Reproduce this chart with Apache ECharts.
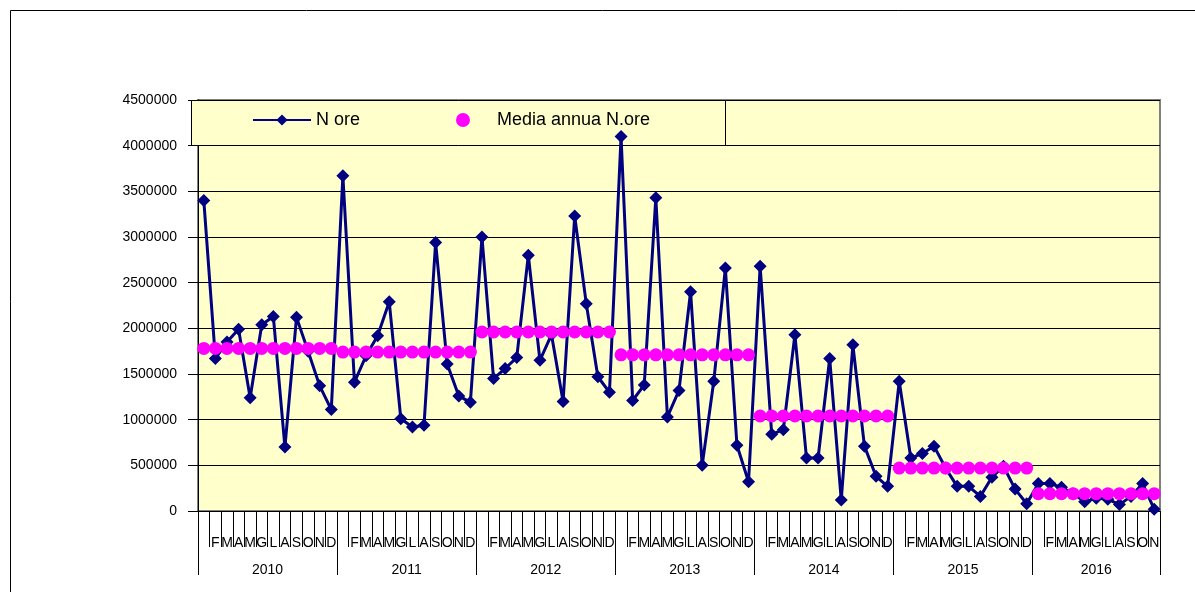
<!DOCTYPE html>
<html>
<head>
<meta charset="utf-8">
<script src="https://cdn.jsdelivr.net/npm/echarts@6/dist/echarts.min.js"></script>
<style>
  html, body { margin: 0; padding: 0; background: #fff; }
  #chart { width: 1195px; height: 592px; }
</style>
</head>
<body>
<div id="chart"></div>
<script>
// etichette asse x
var years = ['2010', '2011', '2012', '2013', '2014', '2015', '2016'];
var monthLabels = ['', 'F', 'M', 'A', 'M', 'G', 'L', 'A', 'S', 'O', 'N', 'D'];

// N ore mensili
var ore2010 = [3400000, 1670000, 1850000, 1990000, 1240000, 2040000, 2130000, 700000, 2120000, 1750000, 1370000, 1110000];
var ore2011 = [3670000, 1410000, 1700000, 1920000, 2290000, 1010000, 920000, 940000, 2940000, 1610000, 1260000, 1190000];
var ore2012 = [3000000, 1450000, 1560000, 1680000, 2800000, 1650000, 1930000, 1200000, 3230000, 2270000, 1470000, 1300000];
var ore2013 = [4100000, 1210000, 1380000, 3430000, 1030000, 1320000, 2400000, 500000, 1420000, 2660000, 720000, 320000];
var ore2014 = [2680000, 840000, 890000, 1930000, 580000, 580000, 1670000, 120000, 1820000, 710000, 380000, 270000];
var ore2015 = [1420000, 580000, 630000, 710000, 470000, 270000, 270000, 160000, 370000, 490000, 240000, 80000];
var ore2016 = [300000, 300000, 260000, 190000, 100000, 140000, 130000, 70000, 160000, 300000, 20000];

// media annua
var mediaAnnua = [1780000, 1740000, 1960000, 1710000, 1040000, 470000, 190000];

var yTicks = [0, 500000, 1000000, 1500000, 2000000, 2500000, 3000000, 3500000, 4000000, 4500000];

var perAnno = [ore2010, ore2011, ore2012, ore2013, ore2014, ore2015, ore2016];
var categories = [];
var oreData = [];
var mediaData = [];
perAnno.forEach(function (arr, y) {
  arr.forEach(function (v, m) {
    categories.push(years[y] + '-' + (m + 1));
    oreData.push(v);
    mediaData.push(mediaAnnua[y]);
  });
});
var nMesi = categories.length;

// confini anni e centro etichette
var yearTicks = [0];
var yearCenters = [];
var acc = 0;
perAnno.forEach(function (arr) {
  yearCenters.push(acc + arr.length / 2);
  acc += arr.length;
  yearTicks.push(acc);
});

var font = 'Arial, "Liberation Sans", sans-serif';
var chart = echarts.init(document.getElementById('chart'));

chart.setOption({
  animation: false,
  grid: {
    left: 198, top: 100, right: 35, bottom: 81,
    show: true,
    backgroundColor: '#ffffcc',
    borderColor: '#808080',
    borderWidth: 2
  },
  graphic: [
    {
      type: 'polyline',
      shape: { points: [[10.5, 592], [10.5, 10.5], [1195, 10.5]] },
      style: { stroke: '#000', lineWidth: 1, fill: null },
      z: 1
    },
    {
      type: 'rect',
      shape: { x: 191.5, y: 100.5, width: 534, height: 45 },
      style: { fill: '#ffffcc', stroke: '#000', lineWidth: 1 },
      z: 1
    }
  ],
  legend: {
    left: 252,
    top: 111,
    itemWidth: 58,
    itemHeight: 14,
    itemGap: 96,
    padding: 0,
    textStyle: { fontFamily: font, fontSize: 18, color: '#000' },
    data: ['N ore', 'Media annua N.ore']
  },
  xAxis: [
    {
      type: 'category',
      data: categories,
      boundaryGap: true,
      axisLine: { lineStyle: { color: '#000', width: 1 } },
      axisTick: { show: true, interval: 0, length: 36, lineStyle: { color: '#000' } },
      axisLabel: {
        interval: 0,
        margin: 25,
        hideOverlap: false,
        fontFamily: font,
        fontSize: 14,
        color: '#000',
        formatter: function (v, i) { return monthLabels[i % 12]; }
      },
      splitLine: { show: false }
    },
    {
      type: 'value',
      position: 'bottom',
      min: 0,
      max: nMesi,
      axisLine: { show: false },
      axisTick: { show: true, length: 64, customValues: yearTicks, lineStyle: { color: '#000' } },
      axisLabel: {
        margin: 52,
        customValues: yearCenters,
        fontFamily: font,
        fontSize: 14,
        color: '#000',
        formatter: function (v) { return years[Math.floor(v / 12)]; }
      },
      splitLine: { show: false }
    }
  ],
  yAxis: {
    type: 'value',
    min: yTicks[0],
    max: yTicks[yTicks.length - 1],
    interval: yTicks[1] - yTicks[0],
    axisLine: { show: true, lineStyle: { color: '#000', width: 1 } },
    axisTick: { show: true, length: 10, lineStyle: { color: '#000' } },
    axisLabel: {
      margin: 21, fontFamily: font, fontSize: 14, color: '#000',
      formatter: function (v) { return String(v); }
    },
    splitLine: { show: true, lineStyle: { color: '#000', width: 1 } }
  },
  series: [
    {
      name: 'N ore',
      type: 'line',
      data: oreData,
      symbol: 'diamond',
      symbolSize: 13,
      itemStyle: { color: '#000080' },
      lineStyle: { color: '#000080', width: 3 },
      z: 3
    },
    {
      name: 'Media annua N.ore',
      type: 'scatter',
      data: mediaData,
      symbol: 'circle',
      symbolSize: 13,
      itemStyle: { color: '#ff00ff', opacity: 1 },
      z: 4
    }
  ]
});
</script>
</body>
</html>
